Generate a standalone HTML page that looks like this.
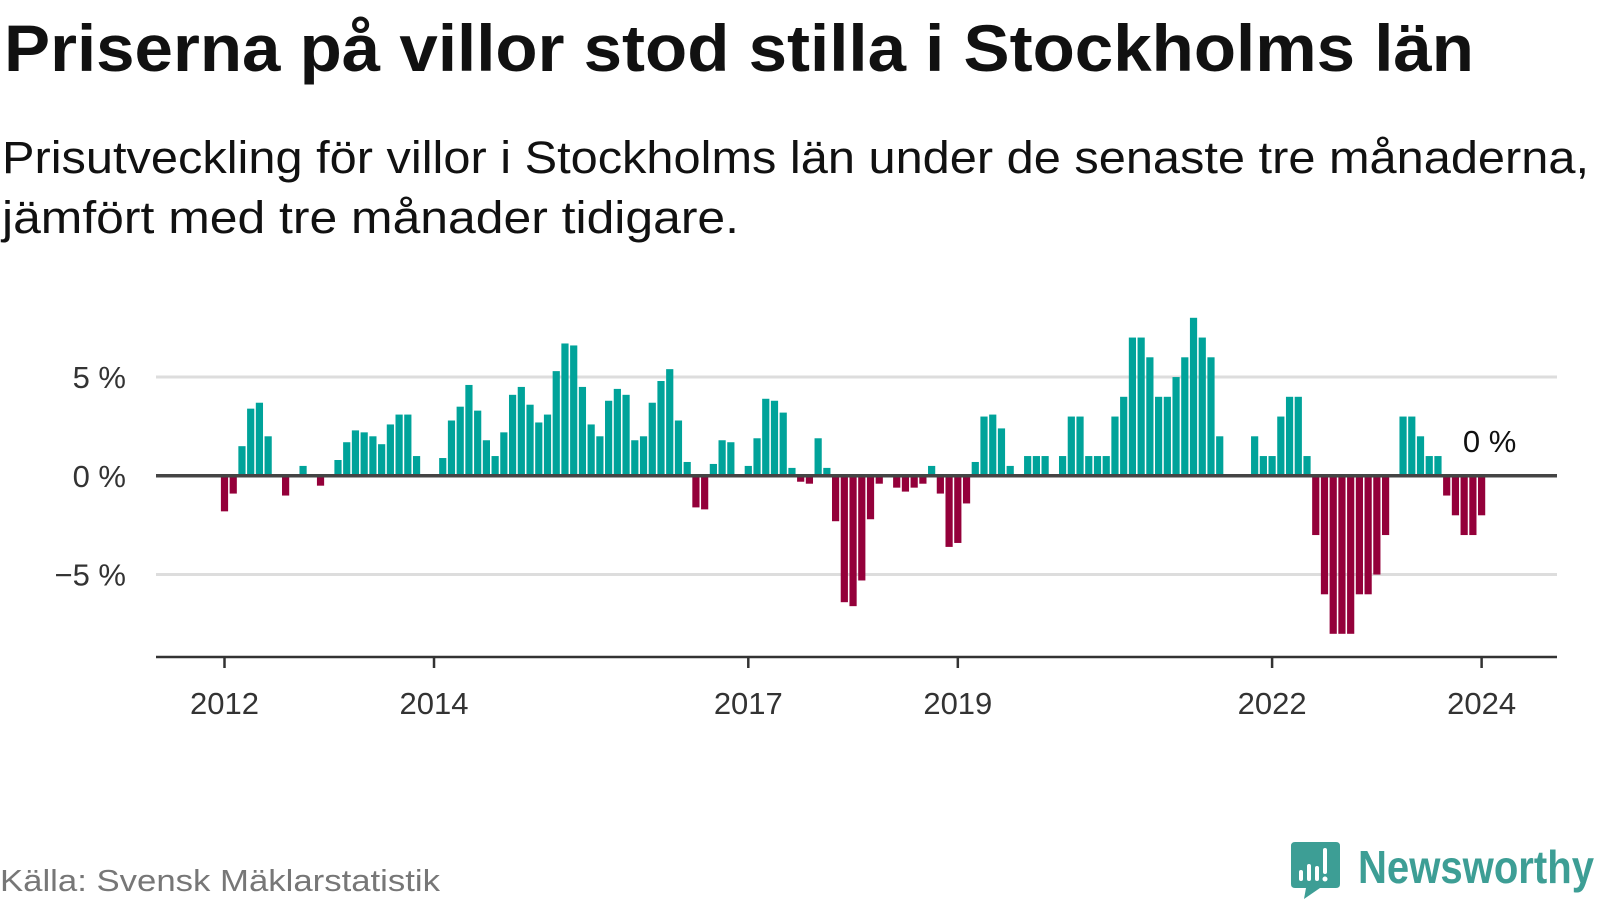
<!DOCTYPE html>
<html><head><meta charset="utf-8"><style>
html,body{margin:0;padding:0;background:#fff;}
svg{display:block;font-family:"Liberation Sans",sans-serif;}
</style></head><body>
<svg id="chart" width="1600" height="900" viewBox="0 0 1600 900" xmlns="http://www.w3.org/2000/svg">
<text x="4" y="71" font-size="66" font-weight="bold" fill="#111" textLength="1470" lengthAdjust="spacingAndGlyphs">Priserna på villor stod stilla i Stockholms län</text>
<text x="2" y="173" font-size="45" fill="#111" textLength="1587" lengthAdjust="spacingAndGlyphs">Prisutveckling för villor i Stockholms län under de senaste tre månaderna,</text>
<text x="2" y="233" font-size="45" fill="#111" textLength="737" lengthAdjust="spacingAndGlyphs">jämfört med tre månader tidigare.</text>
<g id="grid"></g>
<g id="bars"></g>
<g id="axes"></g>
<text x="0" y="891" font-size="31" fill="#777" textLength="440" lengthAdjust="spacingAndGlyphs">Källa: Svensk Mäklarstatistik</text>
<g>
<path d="M1295 842 H1336 Q1340 842 1340 846 V884 Q1340 888 1336 888 H1320 L1304 899 L1306 888 H1295 Q1291 888 1291 884 V846 Q1291 842 1295 842 Z" fill="#3d9e95"/>
<rect x="1299" y="870" width="4" height="11" rx="2" fill="#fff"/>
<rect x="1307" y="864" width="4" height="17" rx="2" fill="#fff"/>
<rect x="1315" y="866" width="4" height="15" rx="2" fill="#fff"/>
<rect x="1323" y="848" width="4" height="26" rx="2" fill="#fff"/>
<circle cx="1325" cy="879" r="2.5" fill="#fff"/>
<text x="1358" y="883" font-size="46" font-weight="bold" fill="#3d9e95" textLength="236" lengthAdjust="spacingAndGlyphs">Newsworthy</text>
</g>
</svg>
<script>
const values = [
-1.8,-0.9,1.5,3.4,3.7,2.0,0,-1.0,0,0.5,0,-0.5,
0,0.8,1.7,2.3,2.2,2.0,1.6,2.6,3.1,3.1,1.0,0,
0,0.9,2.8,3.5,4.6,3.3,1.8,1.0,2.2,4.1,4.5,3.6,
2.7,3.1,5.3,6.7,6.6,4.5,2.6,2.0,3.8,4.4,4.1,1.8,
2.0,3.7,4.8,5.4,2.8,0.7,-1.6,-1.7,0.6,1.8,1.7,0,
0.5,1.9,3.9,3.8,3.2,0.4,-0.3,-0.4,1.9,0.4,-2.3,-6.4,
-6.6,-5.3,-2.2,-0.4,0,-0.6,-0.8,-0.6,-0.4,0.5,-0.9,-3.6,
-3.4,-1.4,0.7,3.0,3.1,2.4,0.5,0,1.0,1.0,1.0,0,
1.0,3.0,3.0,1.0,1.0,1.0,3.0,4.0,7.0,7.0,6.0,4.0,
4.0,5.0,6.0,8.0,7.0,6.0,2.0,0,0,0,2.0,1.0,
1.0,3.0,4.0,4.0,1.0,-3.0,-6.0,-8.0,-8.0,-8.0,-6.0,-6.0,
-5.0,-3.0,0,3.0,3.0,2.0,1.0,1.0,-1.0,-2.0,-3.0,-3.0,
-2.0];
const yTicks = [-5, 0, 5];
const yTickLabels = ["\u22125 %", "0 %", "5 %"];
const xTickIdx = [0, 24, 60, 84, 120, 144];
const xTickLabels = ["2012", "2014", "2017", "2019", "2022", "2024"];
const lastLabel = "0 %";

const NS = "http://www.w3.org/2000/svg";
const x0 = 224.5, step = 8.73, barW = 7.2;
const yZero = 475.8, perPct = 19.75;
const xs = i => x0 + i * step;
const ys = v => yZero - v * perPct;
function mk(tag, attrs, parent) {
  const e = document.createElementNS(NS, tag);
  for (const k in attrs) e.setAttribute(k, attrs[k]);
  parent.appendChild(e);
  return e;
}
const grid = document.getElementById('grid');
const bars = document.getElementById('bars');
const axes = document.getElementById('axes');
yTicks.forEach((t, i) => {
  if (t !== 0) {
    const l = mk('line', {x1:156, x2:1557, y1:ys(t), y2:ys(t), stroke:'#dddddd', 'stroke-width':3}, grid);
    
    
  }
  const tx = mk('text', {x:126, y:ys(t)+11, 'font-size':31, fill:'#333', 'text-anchor':'end'}, axes);
  tx.textContent = yTickLabels[i];
  
  
});
values.forEach((v, i) => {
  if (v === 0) return;
  const top = Math.min(ys(v), ys(0)), h = Math.abs(ys(v) - ys(0));
  const r = mk('rect', {x:xs(i)-barW/2, y:top, width:barW, height:h, fill: v > 0 ? '#00a39a' : '#94003a'}, bars);
  
  
});
const zl = mk('line', {x1:156, x2:1557, y1:ys(0), y2:ys(0), stroke:'#444', 'stroke-width':3.5}, axes);


const ax = mk('line', {x1:156, x2:1557, y1:657, y2:657, stroke:'#333', 'stroke-width':2.5}, axes);


xTickIdx.forEach((idx, i) => {
  const tk = mk('line', {x1:xs(idx), x2:xs(idx), y1:657, y2:668, stroke:'#333', 'stroke-width':2.5}, axes);
  
  
  const tx = mk('text', {x:xs(idx), y:714, 'font-size':31, fill:'#333', 'text-anchor':'middle'}, axes);
  tx.textContent = xTickLabels[i];
  
  
});
const ll = mk('text', {x:xs(values.length-1)+8, y:452, 'font-size':31, fill:'#111', 'text-anchor':'middle'}, axes);
ll.textContent = lastLabel;


</script>
</body></html>
